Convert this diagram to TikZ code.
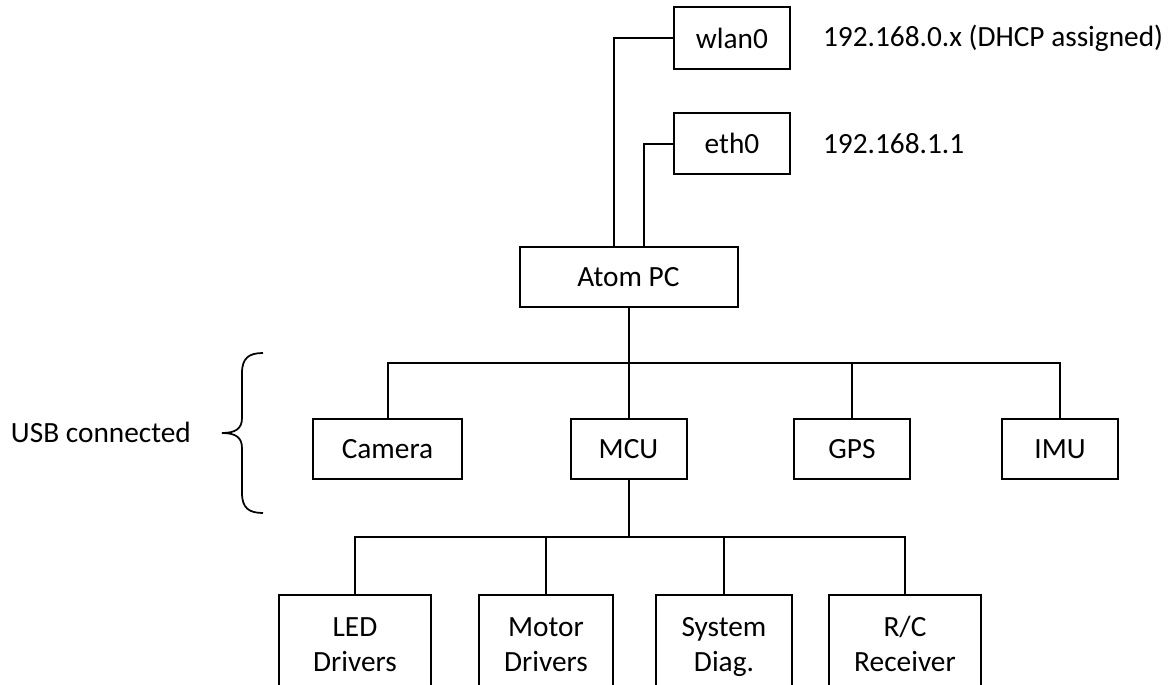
\documentclass[tikz,border=0pt]{standalone}
\usepackage{fontspec}
\setmainfont{Carlito}
\usepackage{tikz}
\usetikzlibrary{positioning, calc}

\begin{document}
\begin{tikzpicture}[x=0.75pt, y=-0.75pt, line width=1.5pt, font=\fontsize{22}{26}\selectfont,
                    unit/.style = {draw, rectangle, minimum width=87pt, minimum height=45pt, inner sep=0pt, align=center},
                    board/.style = {unit, minimum height=78pt},
                    ip/.style = {anchor=west, inner sep=0pt}]
                        \useasboundingbox (0,0) rectangle (1168,685);
                        % network side
                        \node[unit, minimum height=46.5pt] (wlan) at (732,38) {wlan0};
                        \node[unit, minimum height=45.75pt] (eth) at (732,143.5) {eth0};
                        \node[ip] (wlanip) at (822,38) {192.168.0.x (DHCP assigned)};
                        \node[ip] (ethip) at (822,144) {192.168.1.1};
                        \node[unit, minimum width=163.5pt] (atom) at (628.5,277) {Atom PC};
                        % usb devices
                        \node[unit, minimum width=111.75pt] (camera) at (387.5,449) {Camera};
                        \node[unit] (mcu) at (628.5,449) {MCU};
                        \node[unit] (gps) at (852,449) {GPS};
                        \node[unit] (imu) at (1060,449) {IMU};
                        % boards behind the mcu
                        \node[board, minimum width=114pt] (led) at (355,647) {\strut LED\\\strut Drivers};
                        \node[board, minimum width=100.5pt] (motor) at (546,647) {\strut Motor\\\strut Drivers};
                        \node[board, minimum width=102pt] (diag) at (724,647) {\strut System\\\strut Diag.};
                        \node[board, minimum width=114pt] (rc) at (905,647) {\strut R/C\\\strut Receiver};
                        \coordinate (usbbus) at (628.5,363);
                        \coordinate (mcubus) at (628.5,537);
                        \draw (wlan.west) -| ([xshift=-11.25pt]atom.north);
                        \draw (eth.west) -| ([xshift=11.25pt]atom.north);
                        \draw (atom.south) -- (usbbus);
                        \draw (camera.north) |- (usbbus) -| (imu.north);
                        \draw (mcu.north) -- (usbbus);
                        \draw (gps.north) -- (gps.north |- usbbus);
                        \draw (mcu.south) -- (mcubus);
                        \draw (led.north) |- (mcubus) -| (rc.north);
                        \draw (motor.north) -- (motor.north |- mcubus);
                        \draw (diag.north) -- (diag.north |- mcubus);
                        % brace for the usb group
                        \node[ip] (usb) at (10,432) {USB connected};
                        \draw[line width=1.3pt] (263,353) .. controls (249,353) and (242,358) .. (242,373) -- (242,418)
                              .. controls (242,429) and (235,433) .. (222,433) .. controls (235,433) and (242,437) .. (242,448)
                              -- (242,493) .. controls (242,508) and (249,513) .. (263,513);
                    \end{tikzpicture}
\end{document}
